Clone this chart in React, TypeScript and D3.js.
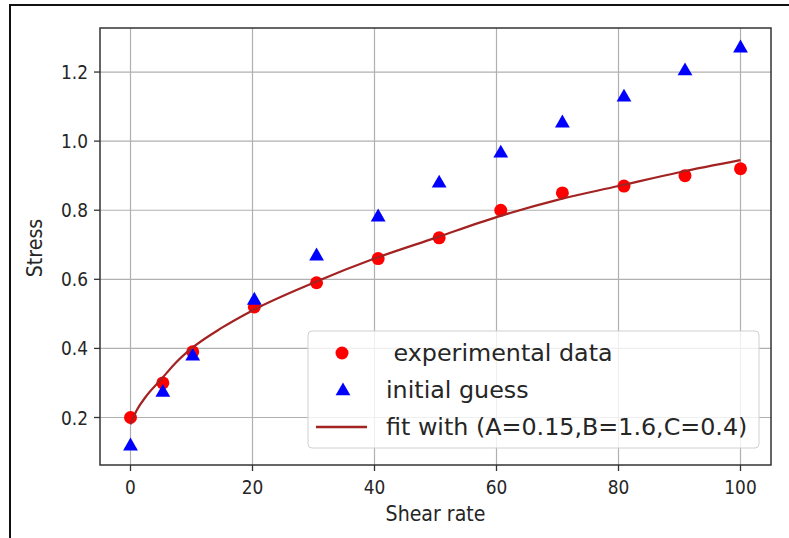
import React from "react";
import * as d3 from "d3";

const shearRate = [0, 5.3, 10.2, 20.3, 30.5, 40.6, 50.6, 60.7, 70.8, 80.9, 90.9, 100];
const experimental = [0.2, 0.3, 0.39, 0.52, 0.59, 0.66, 0.72, 0.8, 0.85, 0.87, 0.9, 0.92];
const initialGuess = [0.12, 0.275, 0.38, 0.542, 0.67, 0.783, 0.881, 0.968, 1.055, 1.13, 1.206, 1.272];
const fitX = [0, 1, 2.5, 5, 7.5, 10, 15, 20, 30, 40, 50, 60, 70, 80, 90, 100];
const fitY = [0.18, 0.22, 0.26, 0.31, 0.36, 0.4, 0.46, 0.51, 0.59, 0.66, 0.72, 0.78, 0.83, 0.87, 0.91, 0.945];
const xTicks = [0, 20, 40, 60, 80, 100];
const yTicks = [0.2, 0.4, 0.6, 0.8, 1.0, 1.2];
const legendLabels = [" experimental data", "initial guess", "fit with (A=0.15,B=1.6,C=0.4)"];

const W = 789, H = 538;
const L = 100, R = 771, T = 28, B = 465;
const FONT = "DejaVu Sans, sans-serif";

export default function App() {
  const x = d3.scaleLinear().domain([-5, 105]).range([L, R]);
  const y = d3.scaleLinear().domain([0.0625, 1.3275]).range([B, T]);
  const line = d3.line<number>().x((d, i) => x(fitX[i])).y((d) => y(d)).curve(d3.curveMonotoneX);
  const tri = d3.symbol().type(d3.symbolTriangle).size(95)();
  const fitColor = "#a32222";
  const lx = 308, ly = 331, lw = 451, lh = 117;
  const rows = [353, 390, 427];
  return (
    <svg width={W} height={H} style={{ position: "absolute", left: 0, top: 0, background: "#fff" }}>
      <line x1={10} y1={5} x2={10} y2={H} stroke="#111" strokeWidth={2} />
      <line x1={9} y1={5} x2={W} y2={5} stroke="#111" strokeWidth={2} />
      <defs>
        <clipPath id="plot"><rect x={L} y={T} width={R - L} height={B - T} /></clipPath>
      </defs>
      {xTicks.map((t) => (
        <line key={"gx" + t} x1={x(t)} x2={x(t)} y1={T} y2={B} stroke="#b0b0b0" strokeWidth={1.2} />
      ))}
      {yTicks.map((t) => (
        <line key={"gy" + t} x1={L} x2={R} y1={y(t)} y2={y(t)} stroke="#b0b0b0" strokeWidth={1.2} />
      ))}
      <g clipPath="url(#plot)">
        {shearRate.map((s, i) => (
          <circle key={"c" + i} cx={x(s)} cy={y(experimental[i])} r={6.5} fill="#ff0000" />
        ))}
        {shearRate.map((s, i) => (
          <path key={"t" + i} d={tri as string} transform={`translate(${x(s)},${y(initialGuess[i]) + 1})`} fill="#0000ff" />
        ))}
        <path d={line(fitY) as string} fill="none" stroke={fitColor} strokeWidth={2.2} />
      </g>
      <rect x={L} y={T} width={R - L} height={B - T} fill="none" stroke="#333" strokeWidth={1.5} />
      {xTicks.map((t) => (
        <g key={"xt" + t}>
          <line x1={x(t)} x2={x(t)} y1={B} y2={B + 6} stroke="#333" strokeWidth={1.3} />
          <text transform={`translate(${x(t)},${B + 29}) scale(1,1.12)`} textAnchor="middle" fontFamily={FONT} fontSize={17} fill="#262626">{t}</text>
        </g>
      ))}
      {yTicks.map((t) => (
        <g key={"yt" + t}>
          <line x1={L - 6} x2={L} y1={y(t)} y2={y(t)} stroke="#333" strokeWidth={1.3} />
          <text transform={`translate(${L - 12},${y(t) + 7}) scale(1,1.12)`} textAnchor="end" fontFamily={FONT} fontSize={17} fill="#262626">{t.toFixed(1)}</text>
        </g>
      ))}
      <text transform={`translate(${(L + R) / 2},521) scale(1,1.1)`} textAnchor="middle" fontFamily={FONT} fontSize={19} fill="#262626">Shear rate</text>
      <text transform={`translate(42,248) rotate(-90) scale(1,1.1)`} textAnchor="middle" fontFamily={FONT} fontSize={19} fill="#262626">Stress</text>
      <rect x={lx} y={ly} width={lw} height={lh} rx={4} fill="#fff" fillOpacity={0.8} stroke="#d0d0d0" strokeWidth={1} />
      <circle cx={342} cy={rows[0]} r={6.5} fill="#ff0000" />
      <path d={tri as string} transform={`translate(343,${rows[1] + 1})`} fill="#0000ff" />
      <line x1={316} x2={367} y1={rows[2]} y2={rows[2]} stroke={fitColor} strokeWidth={2.5} />
      {legendLabels.map((s, i) => (
        <text key={"lg" + i} x={386} y={rows[i] + 8} fontFamily={FONT} fontSize={23.8} fill="#262626" style={{ whiteSpace: "pre" }}>{s}</text>
      ))}
    </svg>
  );
}
